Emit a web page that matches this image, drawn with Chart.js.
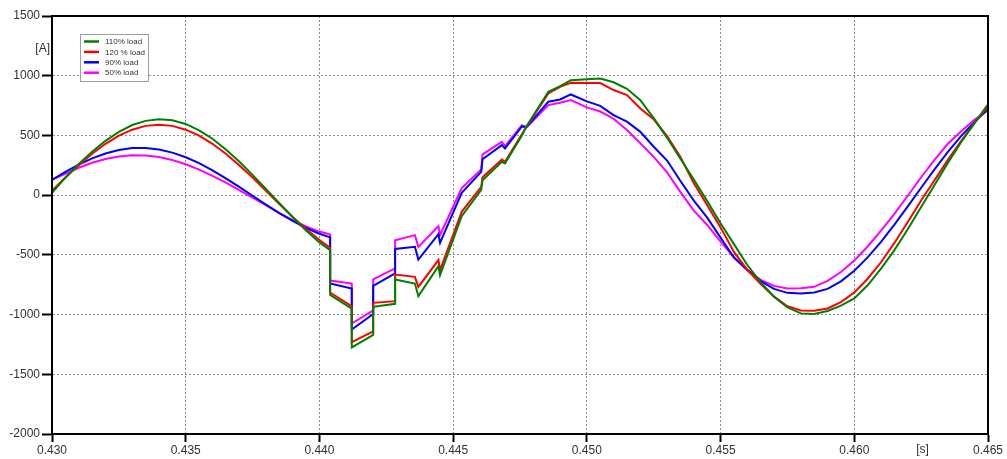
<!DOCTYPE html>
<html><head><meta charset="utf-8">
<script src="https://cdn.jsdelivr.net/npm/chart.js@4.4.1/dist/chart.umd.min.js"></script>
<style>html,body{margin:0;padding:0;background:#fff;overflow:hidden}</style>
</head><body>
<canvas id="c" width="1007" height="459"></canvas>
<script>
// time axis [s]
const times = [
  0.4300,0.4305,0.4310,0.4315,0.4320,0.4325,0.4330,0.4335,0.4340,0.4345,0.4350,0.4355,0.4360,0.4365,0.4370,0.4375,0.4380,0.4385,0.4390,0.4395,0.4400,0.4404,
  0.4404,0.44121,0.44121,0.44201,0.44201,0.44283,0.44283,0.44357,0.44370,0.44445,0.44451,0.44532,0.44605,0.44610,0.44682,0.44694,0.44757,0.44775,0.44856,0.4490,0.4494,
  0.4500,0.4505,0.4510,0.4515,0.4520,0.4525,0.4530,0.4535,0.4540,0.4545,0.4550,0.4555,0.4560,0.4565,0.4570,0.4575,0.4580,0.4585,0.4590,0.4595,0.4600,0.4605,0.4610,0.4615,0.4620,0.4625,0.4630,0.4635,0.4640,0.4645,0.4650
];
// current [A]
const load110 = [
  20,146,260,364,455,530,587,622,636,627,596,543,472,383,282,170,52,-68,-185,-296,-396,-460,
  -835,-950,-1275,-1170,-935,-910,-706,-740,-846,-595,-670,-176,45,125,279,265,500,578,865,913,963,
  970,977,945,890,795,645,480,305,130,-50,-235,-410,-585,-730,-850,-940,-990,-995,-970,-925,-865,-755,-615,-460,-285,-100,85,270,445,605,760
];
const load120 = [
  37,147,251,347,430,498,548,580,590,580,548,498,430,347,251,147,37,-74,-182,-284,-376,-440,
  -815,-930,-1230,-1140,-902,-888,-665,-684,-768,-544,-628,-140,70,150,299,279,510,575,852,907,941,
  940,938,880,838,726,635,495,320,100,-85,-270,-475,-625,-745,-850,-930,-965,-968,-949,-896,-815,-700,-562,-400,-225,-45,125,295,455,605,740
];
const load90 = [
  127,195,256,308,349,378,394,395,382,356,317,268,208,141,69,-5,-79,-150,-216,-275,-323,-354,
  -740,-782,-1125,-995,-760,-656,-450,-433,-539,-327,-399,20,195,300,419,391,575,572,782,801,843,
  785,748,670,615,530,405,290,118,-46,-188,-356,-523,-625,-720,-785,-818,-824,-815,-785,-722,-633,-521,-391,-247,-94,62,216,363,496,612,720
];
const load50 = [
  130,179,229,271,303,324,334,332,319,294,259,214,162,104,43,-20,-83,-150,-210,-262,-305,-330,
  -715,-740,-1075,-965,-706,-614,-377,-335,-433,-260,-335,60,215,341,446,410,586,568,754,773,796,
  735,700,640,545,435,320,190,25,-130,-250,-390,-520,-630,-710,-760,-782,-780,-768,-718,-644,-547,-430,-298,-156,-5,150,295,430,535,634,711
];
const seriesLabels = ['110% load','120 % load','90% load','50% load'];
const seriesColors = ['#008000','#ff0000','#0000ff','#ff00ff'];
const xTickValues = [0.430,0.435,0.440,0.445,0.450,0.455,0.460,0.465];
const yTickValues = [-2000,-1500,-1000,-500,0,500,1000,1500];
const yUnit = '[A]';
const xUnit = '[s]';

const FONT = "'Liberation Sans', Arial, sans-serif";
const series = [load110, load120, load90, load50];
const datasets = series.map((vals, i) => ({
  label: seriesLabels[i],
  data: times.map((t, k) => ({x: t, y: vals[k]})),
  borderColor: seriesColors[i],
  backgroundColor: seriesColors[i],
  borderWidth: 2,
  pointRadius: 0,
  tension: 0,
  fill: false
}));

const framePlugin = {
  id: 'frame',
  afterDraw(chart) {
    const {ctx, chartArea: a} = chart;
    ctx.save();
    ctx.strokeStyle = '#000';
    ctx.lineWidth = 2;
    ctx.strokeRect(a.left, a.top, a.right - a.left, a.bottom - a.top);
    // unit labels
    ctx.fillStyle = '#333';
    ctx.font = '12px ' + FONT;
    ctx.textBaseline = 'middle';
    ctx.textAlign = 'right';
    ctx.fillText(yUnit, a.left - 2, chart.scales.y.getPixelForValue(1225));
    ctx.textAlign = 'center';
    const xs = chart.scales.x;
    ctx.fillText(xUnit, xs.getPixelForValue(0.46255), 450);
    // legend
    const lx = 80, ly = 34, lw = 68, lh = 47;
    ctx.fillStyle = '#fff';
    ctx.fillRect(lx, ly, lw, lh);
    ctx.strokeStyle = '#a0a0a0';
    ctx.lineWidth = 1;
    ctx.strokeRect(lx + 0.5, ly + 0.5, lw, lh);
    ctx.font = '8px ' + FONT;
    ctx.textAlign = 'left';
    chart.data.datasets.forEach((ds, i) => {
      const y = ly + 7.5 + i * 10.4;
      ctx.strokeStyle = ds.borderColor;
      ctx.lineWidth = 2.5;
      ctx.beginPath();
      ctx.moveTo(lx + 4, y);
      ctx.lineTo(lx + 19, y);
      ctx.stroke();
      ctx.fillStyle = '#333';
      ctx.fillText(ds.label, lx + 25, y + 0.5);
    });
    ctx.restore();
  }
};

new Chart(document.getElementById('c'), {
  type: 'line',
  data: {datasets},
  plugins: [framePlugin],
  options: {
    responsive: false,
    animation: false,
    devicePixelRatio: 1,
    layout: {padding: {left: 0, top: 16, right: 19, bottom: 0}},
    plugins: {legend: {display: false}, tooltip: {enabled: false}},
    scales: {
      x: {
        type: 'linear', min: 0.430, max: 0.465,
        afterBuildTicks: s => { s.ticks = xTickValues.map(v => ({value: v})); },
        afterFit: s => { s.height = 25; s.paddingLeft = 0; s.paddingRight = 0; },
        ticks: {callback: v => v.toFixed(3), color: '#333', font: {family: FONT, size: 12}, padding: 1, maxRotation: 0, autoSkip: false},
        grid: {color: '#8c8c8c', lineWidth: 1, tickColor: '#000', tickLength: 8, tickWidth: 2, tickBorderDash: []},
        border: {display: true, color: '#000', width: 2, dash: [2, 2]}
      },
      y: {
        type: 'linear', min: -2000, max: 1500,
        afterBuildTicks: s => { s.ticks = yTickValues.map(v => ({value: v})); },
        afterFit: s => { s.width = 52; s.paddingTop = 0; s.paddingBottom = 0; },
        ticks: {callback: v => String(v), color: '#333', font: {family: FONT, size: 12}, padding: 2, autoSkip: false},
        grid: {color: '#8c8c8c', lineWidth: 1, tickColor: '#000', tickLength: 10, tickWidth: 2, tickBorderDash: []},
        border: {display: true, color: '#000', width: 2, dash: [2, 2]}
      }
    }
  }
});
</script>
</body></html>
